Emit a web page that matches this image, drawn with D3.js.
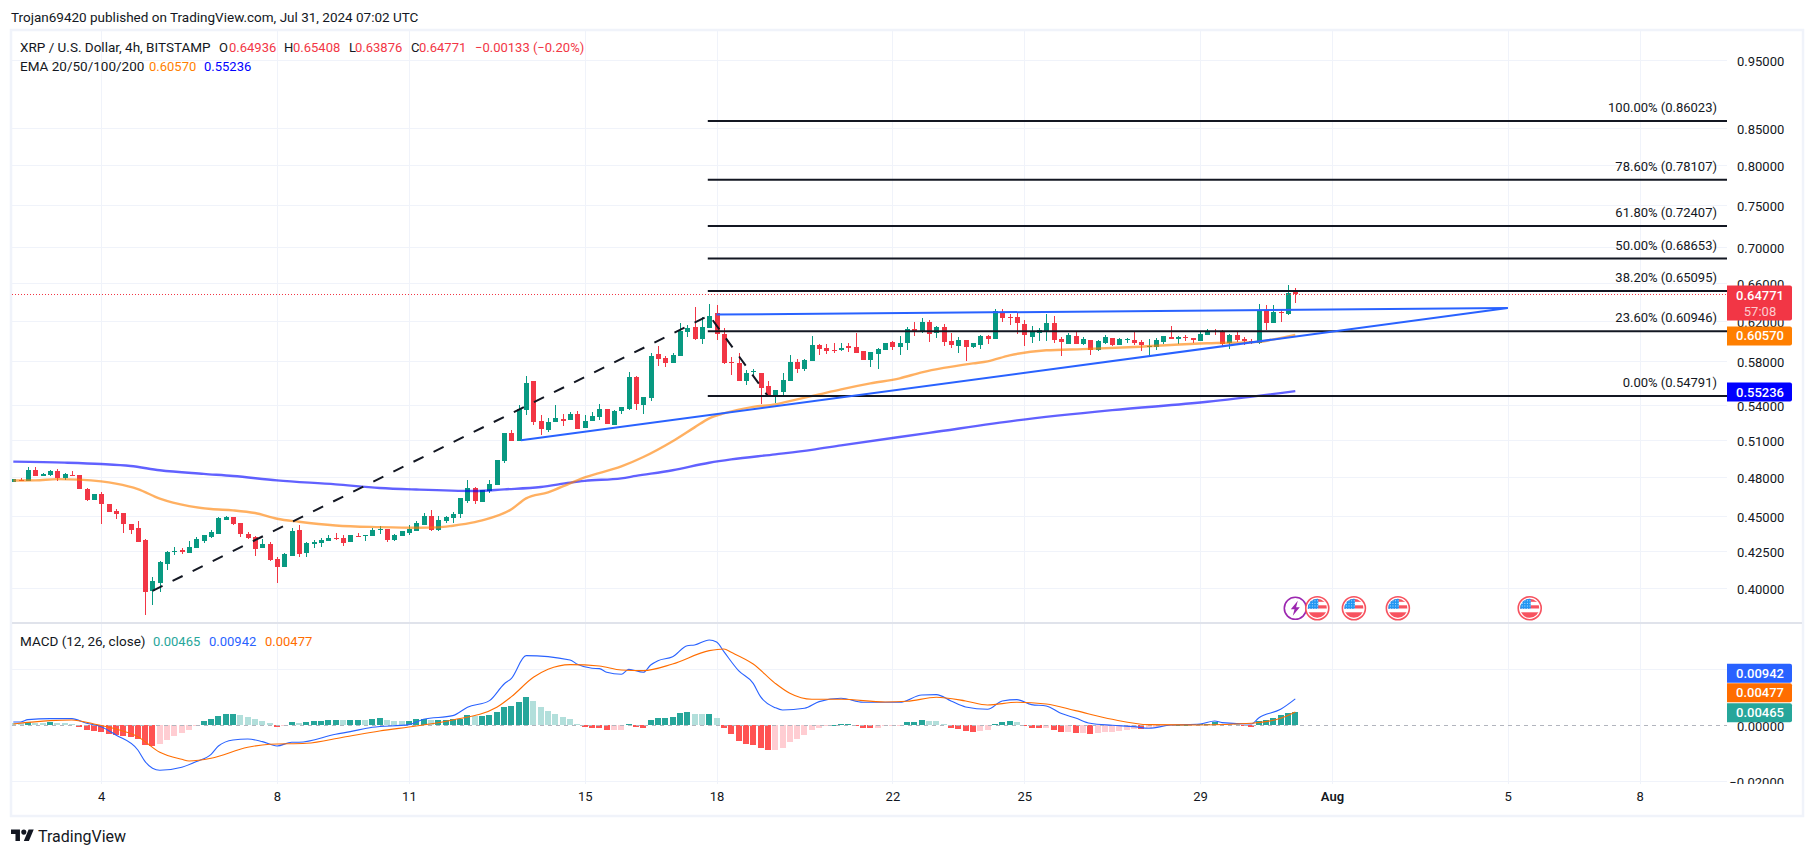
<!DOCTYPE html>
<html><head><meta charset="utf-8">
<style>
html,body{margin:0;padding:0;background:#fff;overflow:hidden}
svg{display:block}
text{font-family:Roboto,"Noto Sans",sans-serif;font-size:13px;fill:#131722}
.axis path,.axis line{display:none}
</style>
<script src="https://cdn.jsdelivr.net/npm/d3@7/dist/d3.min.js"></script>
</head><body><svg id="c" width="1814" height="855"></svg>
<script>
const opens=[.4759,.4777,.4764,.4851,.4804,.4812,.4843,.4788,.4814,.4812,
.4705,.4618,.4664,.4591,.4536,.4521,.4440,.4411,.4325,.3978,
.4036,.4158,.4241,.4255,.4234,.4269,.4318,.4348,.4369,.4471,
.4491,.4447,.4369,.4348,.4269,.4297,.4192,.4138,.4213,.4397,
.4234,.4302,.4304,.4318,.4341,.4341,.4311,.4355,.4355,.4355,
.4399,.4404,.4325,.4355,.4376,.4390,.4433,.4498,.4397,.4462,
.4484,.4513,.4610,.4710,.4605,.4687,.4733,.4923,.5154,.5088,
.5352,.5613,.5257,.5180,.5248,.5274,.5265,.5318,.5197,.5257,
.5292,.5361,.5222,.5344,.5361,.5650,.5396,.5459,.5866,.5828,
.5781,.5847,.6083,.6133,.6013,.6123,.6275,.6063,.5791,.5781,
.5613,.5700,.5687,.5567,.5477,.5513,.5613,.5791,.5724,.5800,
.5954,.5925,.5912,.5912,.5944,.5935,.5896,.5810,.5866,.5906,
.5984,.5935,.5974,.6113,.6083,.6184,.6073,.6133,.5993,.5944,
.6003,.5935,.5954,.6043,.6013,.6286,.6234,.6234,.6163,.6033,
.6073,.6093,.6173,.6013,.5964,.6043,.5964,.6003,.5906,.5974,
.6023,.5954,.6013,.6003,.5984,.5944,.5935,.5984,.6033,.6020,
.6033,.6023,.5993,.6053,.6093,.6083,.5974,.6053,.6013,.5993,
.5974,.6296,.6173,.6289,.6265,.64936];
const highs=[.4780,.4793,.4875,.4875,.4827,.4851,.4859,.4827,.4849,.4812,
.4710,.4669,.4685,.4593,.4551,.4521,.4440,.4462,.4332,.4070,
.4178,.4248,.4276,.4269,.4318,.4348,.4361,.4397,.4491,.4498,
.4491,.4447,.4383,.4355,.4334,.4311,.4206,.4234,.4411,.4433,
.4311,.4325,.4341,.4361,.4376,.4361,.4361,.4376,.4361,.4411,
.4425,.4404,.4369,.4390,.4433,.4462,.4521,.4543,.4498,.4498,
.4528,.4633,.4772,.4718,.4700,.4772,.4931,.5154,.5180,.5396,
.5660,.5613,.5309,.5283,.5396,.5318,.5335,.5344,.5309,.5335,
.5405,.5361,.5352,.5379,.5697,.5660,.5468,.5876,.5944,.5847,
.5876,.6173,.6153,.6337,.6234,.6368,.6358,.6123,.5838,.5876,
.5715,.5724,.5687,.5613,.5531,.5687,.5857,.5819,.5819,.6043,
.5964,.5964,.5974,.5974,.5974,.6073,.5896,.5886,.5925,.5974,
.5993,.6043,.6133,.6184,.6224,.6204,.6143,.6163,.6073,.6033,
.6003,.5974,.6053,.6053,.6316,.6316,.6265,.6275,.6204,.6143,
.6123,.6265,.6244,.6033,.6073,.6083,.6033,.6003,.6003,.6053,
.6023,.6023,.6023,.6083,.6003,.6013,.6023,.6043,.6143,.6043,
.6053,.6023,.6083,.6113,.6113,.6103,.6063,.6093,.6033,.6013,
.6368,.6358,.6358,.6306,.6570,.65408];
const lows=[.4759,.4767,.4764,.4804,.4804,.4809,.4764,.4777,.4804,.4702,
.4610,.4618,.4440,.4528,.4476,.4376,.4369,.4311,.3825,.3888,
.3971,.4117,.4220,.4227,.4234,.4269,.4304,.4341,.4369,.4469,
.4433,.4348,.4334,.4213,.4269,.4178,.4036,.4138,.4213,.4206,
.4206,.4269,.4276,.4318,.4325,.4283,.4311,.4348,.4318,.4355,
.4369,.4311,.4318,.4355,.4361,.4390,.4433,.4390,.4390,.4447,
.4447,.4484,.4595,.4588,.4605,.4672,.4733,.4908,.5088,.5088,
.5309,.5222,.5137,.5163,.5248,.5214,.5265,.5189,.5197,.5257,
.5265,.5231,.5222,.5318,.5352,.5352,.5318,.5432,.5752,.5743,
.5781,.5847,.6033,.6003,.5964,.6123,.6003,.5772,.5669,.5613,
.5576,.5650,.5405,.5477,.5414,.5477,.5613,.5687,.5706,.5800,
.5857,.5866,.5876,.5899,.5886,.5876,.5810,.5743,.5724,.5906,
.5906,.5857,.5906,.6043,.6073,.5984,.6023,.5944,.5925,.5876,
.5800,.5925,.5915,.5964,.6013,.6184,.6153,.6063,.5944,.5974,
.5993,.5993,.5974,.5847,.5964,.5964,.5954,.5857,.5896,.5964,
.5944,.5954,.5974,.5954,.5896,.5838,.5906,.5964,.6013,.5964,
.5993,.5974,.5993,.6053,.6053,.5935,.5915,.5984,.5954,.5964,
.5964,.6103,.6173,.6184,.6255,.63876];
const closes=[.4780,.4772,.4851,.4804,.4819,.4846,.4788,.4819,.4809,.4702,
.4618,.4669,.4588,.4531,.4513,.4440,.4397,.4316,.3971,.4043,
.4171,.4241,.4248,.4241,.4276,.4334,.4362,.4383,.4483,.4491,
.4440,.4369,.4341,.4262,.4297,.4185,.4138,.4227,.4390,.4227,
.4304,.4311,.4325,.4341,.4334,.4304,.4361,.4350,.4361,.4397,
.4404,.4325,.4361,.4390,.4404,.4447,.4498,.4397,.4469,.4491,
.4513,.4633,.4710,.4610,.4695,.4741,.4931,.5154,.5088,.5361,
.5595,.5248,.5189,.5248,.5283,.5257,.5318,.5189,.5257,.5300,
.5361,.5231,.5344,.5379,.5650,.5405,.5468,.5847,.5819,.5781,
.5857,.6093,.6123,.6013,.6133,.6244,.6063,.5781,.5788,.5613,
.5687,.5706,.5549,.5477,.5531,.5622,.5791,.5724,.5810,.5954,
.5915,.5896,.5906,.5931,.5925,.5876,.5810,.5886,.5915,.5974,
.5935,.5974,.6113,.6083,.6184,.6063,.6133,.5984,.5954,.6003,
.5935,.5974,.6043,.6013,.6296,.6224,.6227,.6173,.6053,.6083,
.6103,.6173,.6003,.5984,.6053,.5964,.6013,.5906,.5993,.6033,
.5954,.6013,.6020,.5974,.5954,.5951,.6003,.6043,.6013,.6033,
.6027,.6003,.6063,.6093,.6083,.5964,.6053,.6003,.5993,.5987,
.6306,.6173,.6286,.6279,.6485,.64771];

const ema50Idx=[0,3,6,9,12,14,17,20,24,27,30,33,36,39,44,50,55,58,60,63,64,68,70,73,76,78,83,86,90,93,95,97,101,104,107,110,113,117,121,124,127,131,133,136,141,146,153,163,170,172,175];
const ema50=[.4771,.4772,.4782,.4778,.4764,.4746,.4704,.4631,.4575,.4553,.4543,.4523,.4481,.4459,.4432,.4420,.4415,.4418,.4430,.4456,.4469,.4551,.4633,.4679,.4749,.4795,.4882,.4958,.5088,.5205,.5283,.5326,.5383,.5405,.5450,.5495,.5540,.5594,.5641,.5696,.5738,.5781,.5800,.5857,.5906,.5918,.5938,.5975,.5988,.6013,.6057];
const ema200Idx=[0,7,12,16,20,26,30,36,44,50,55,63,67,72,76,78,83,85,90,95,98,104,109,113,125,137,150,163,175];
const ema200=[.4921,.4913,.4902,.4886,.4852,.4823,.4806,.4772,.4741,.4713,.4701,.4690,.4702,.4720,.4754,.4768,.4788,.4807,.4852,.4912,.4939,.4980,.5017,.5054,.5158,.5265,.5354,.5428,.55236];

const fibRatios=["100.00%","78.60%","61.80%","50.00%","38.20%","23.60%","0.00%"];
const fibPrices=[.86023,.78107,.72407,.68653,.65095,.60946,.54791];
const fibStartIdx=94.8;
const upperTrendIdx=[96,204], upperTrend=[.6262,.6330];
const lowerTrendIdx=[69.3,204], lowerTrend=[.5096,.6330];
const zigzagIdx=[19,95,103], zigzag=[.3981,.6254,.54791];

const priceTicks=[.95,.85,.80,.75,.70,.66,.62,.58,.54,.51,.48,.45,.425,.40];
const macdTicks=[.02,0,-.02];
const dayTickIdx=[12,36,54,78,96,120,138,162,180,204,222];
const dayTickLabels=["4","8","11","15","18","22","25","29","Aug","5","8"];

const macdUnit=1e-5;
const macdHist=[95,71,107,83,71,119,95,83,48,-48,
-179,-190,-226,-321,-357,-381,-405,-500,-714,-738,
-666,-524,-381,-274,-155,-12,143,214,345,405,
417,369,298,214,167,95,-48,-36,119,83,
119,155,157,190,193,188,190,193,190,238,
244,190,161,155,161,214,220,184,190,196,
214,238,357,333,345,369,476,666,690,833,
1000,857,655,500,405,298,238,48,-60,-83,
-84,-167,-161,-155,48,-48,-95,202,262,265,
298,428,488,417,393,417,274,-95,-309,-559,
-666,-702,-797,-881,-875,-809,-595,-488,-345,-167,
-83,-12,24,60,62,-12,-95,-101,-83,-36,
-30,-12,107,131,202,167,161,60,-95,-131,
-202,-226,-202,-167,60,131,167,131,-24,-95,
-101,-83,-167,-238,-232,-274,-268,-309,-274,-244,
-238,-202,-167,-131,-137,-95,-60,-24,-12,12,
24,36,38,60,119,60,54,36,-12,-60,
143,179,262,357,452,465];
const macdLineIdx=[0,1,2,5,8,10,12,14,17,18,19,20,23,25,27,28,30,32,34,36,38,39,44,46,49,54,56,60,62,65,67,68,70,76,77,79,80,81,83,84,86,87,88,90,92,93,95,96,97,99,101,102,104,105,108,110,113,116,121,124,126,128,130,133,135,137,139,141,143,145,147,150,153,155,158,162,164,165,169,170,173,175];
const macdLine=[119,119,202,238,238,71,-48,-345,-881,-1297,-1535,-1607,-1499,-1297,-1035,-738,-524,-488,-583,-738,-607,-607,-321,-226,-71,24,214,345,643,881,1476,1678,2487,2332,2178,2035,2023,1892,1821,1999,1892,2154,2309,2451,2844,2868,3046,2975,2630,1952,1499,1023,631,547,607,845,964,821,821,1083,1095,869,655,571,869,916,738,690,428,262,71,0,-48,-107,12,48,155,95,48,262,571,942];
const signalIdx=[0,5,8,11,14,17,20,23,24,27,32,35,40,45,50,55,60,66,68,71,73,76,80,83,86,90,95,97,98,101,104,106,109,113,119,122,126,130,133,137,141,145,150,155,162,169,173,175];
const signalLine=[48,167,190,48,-131,-405,-964,-1214,-1273,-1178,-785,-678,-643,-428,-202,-24,190,643,1023,1714,1999,2166,2118,1975,1952,2190,2666,2725,2606,2190,1499,1142,928,928,833,857,1000,869,726,821,762,524,214,24,12,71,250,477];

const eventIdx=[175,178,183,189,207];
const eventKinds=["split","us","us","us","us"];

/* ------ geometry ------ */
const L=12,R=1727,TOP=31,DIV=623,PB=784;
const x=d3.scaleLinear().domain([0,175]).range([13.3,1295.3]);
const y=d3.scaleLog().domain([.95,.40]).range([60.4,588]);
const ym=d3.scaleLinear().domain([.02,-.02]).range([669.3,781.3]);
const svg=d3.select("#c");
const GRID="#f0f3fa",UP="#089981",DOWN="#f23645",INK="#131722";

svg.append("rect").attr("width",1814).attr("height",855).attr("fill","#fff");
svg.append("rect").attr("x",11).attr("y",30).attr("width",1792).attr("height",786)
  .attr("fill","#fff").attr("stroke",GRID).attr("stroke-width",2.5);

const defs=svg.append("defs");
defs.append("clipPath").attr("id","mainClip").append("rect").attr("x",L).attr("y",TOP).attr("width",R-L).attr("height",DIV-TOP-1);
defs.append("clipPath").attr("id","macdClip").append("rect").attr("x",L).attr("y",DIV+1).attr("width",R-L).attr("height",PB-DIV-1);
defs.append("clipPath").attr("id","axisClip").append("rect").attr("x",R).attr("y",DIV+1).attr("width",70).attr("height",PB-DIV-1);
defs.append("clipPath").attr("id","flagClip").append("circle").attr("r",9.5);

/* grid */
const grid=svg.append("g").attr("shape-rendering","crispEdges").attr("stroke",GRID).attr("stroke-width",1);
grid.selectAll(".v").data(dayTickIdx).join("line").attr("x1",d=>Math.round(x(d))+.5).attr("x2",d=>Math.round(x(d))+.5).attr("y1",TOP).attr("y2",PB);
grid.selectAll(".h").data(priceTicks).join("line").attr("x1",L).attr("x2",R).attr("y1",d=>Math.round(y(d))+.5).attr("y2",d=>Math.round(y(d))+.5);
grid.selectAll(".m").data(macdTicks.filter(d=>d!==0)).join("line").attr("x1",L).attr("x2",R).attr("y1",d=>Math.round(ym(d))+.5).attr("y2",d=>Math.round(ym(d))+.5);
svg.append("line").attr("x1",L).attr("x2",1802).attr("y1",DIV).attr("y2",DIV).attr("stroke","#e0e3eb").attr("stroke-width",2);

/* candles */
const main=svg.append("g").attr("clip-path","url(#mainClip)");
const candles=d3.range(opens.length);
const cg=main.append("g").attr("shape-rendering","crispEdges");
const col=i=>closes[i]>=opens[i]?UP:DOWN;
cg.selectAll(".w").data(candles).join("line")
  .attr("x1",i=>Math.round(x(i))+.5).attr("x2",i=>Math.round(x(i))+.5)
  .attr("y1",i=>y(highs[i])).attr("y2",i=>y(lows[i])).attr("stroke",col);
cg.selectAll(".b").data(candles).join("rect")
  .attr("x",i=>Math.round(x(i))-2).attr("width",5)
  .attr("y",i=>y(Math.max(opens[i],closes[i])))
  .attr("height",i=>Math.max(1,y(Math.min(opens[i],closes[i]))-y(Math.max(opens[i],closes[i]))))
  .attr("fill",col);

/* EMAs */
const priceLine=d3.line().x(d=>x(d[0])).y(d=>y(d[1])).curve(d3.curveMonotoneX);
main.append("path").attr("d",priceLine(d3.zip(ema200Idx,ema200))).attr("fill","none").attr("stroke","#0000ff").attr("stroke-opacity",.62).attr("stroke-width",2.4);
main.append("path").attr("d",priceLine(d3.zip(ema50Idx,ema50))).attr("fill","none").attr("stroke","#ff7f00").attr("stroke-opacity",.62).attr("stroke-width",2.4);

/* last price dotted */
main.append("line").attr("x1",L).attr("x2",R).attr("y1",Math.round(y(.64771))+.5).attr("y2",Math.round(y(.64771))+.5)
  .attr("stroke",DOWN).attr("stroke-width",1).attr("stroke-dasharray","1 2");

/* fib lines */
main.selectAll(".fib").data(fibPrices).join("line").attr("x1",x(fibStartIdx)).attr("x2",R)
  .attr("y1",d=>y(d)).attr("y2",d=>y(d)).attr("stroke",INK).attr("stroke-width",2);
const straight=d3.line().x(d=>x(d[0])).y(d=>y(d[1]));
main.append("path").attr("d",straight(d3.zip(zigzagIdx,zigzag))).attr("fill","none").attr("stroke",INK).attr("stroke-width",2).attr("stroke-dasharray","11.2 11.2");
[[upperTrendIdx,upperTrend],[lowerTrendIdx,lowerTrend]].forEach(([a,b])=>{
  main.append("path").attr("d",straight(d3.zip(a,b))).attr("fill","none").attr("stroke","#2962ff").attr("stroke-width",2);
});
svg.selectAll(".fl").data(fibPrices).join("text").attr("x",1717).attr("y",d=>y(d)-13.5).attr("dy",".35em")
  .attr("text-anchor","end").text((d,i)=>`${fibRatios[i]} (${d3.format(".5f")(d)})`);

/* events */
const ev=svg.selectAll(".ev").data(eventIdx).join("g").attr("transform",d=>`translate(${x(d)},608.3)`);
ev.each(function(d,i){
  const g=d3.select(this);
  if(eventKinds[i]==="split"){
    g.append("circle").attr("r",11).attr("fill","#fff").attr("stroke","#9c27b0").attr("stroke-width",1.6);
    g.append("path").attr("d","M2.5,-7.5 L-4.5,1 L-0.8,1 L-2.5,7.5 L4.5,-1 L0.8,-1 Z").attr("fill","#9c27b0");
  }else{
    g.append("circle").attr("r",11.5).attr("fill","#fff").attr("stroke","#f7525f").attr("stroke-width",1.6);
    const f=g.append("g").attr("clip-path","url(#flagClip)");
    f.append("rect").attr("x",-10).attr("y",-10).attr("width",20).attr("height",20).attr("fill","#fff");
    [[-10,3.5],[-3,3.2],[4,7]].forEach(r=>f.append("rect").attr("x",-10).attr("y",r[0]).attr("width",20).attr("height",r[1]).attr("fill","#f7525f"));
    f.append("rect").attr("x",-10).attr("y",-10).attr("width",11).attr("height",10.5).attr("fill","#2196f3");
    d3.range(-8,0,2.6).forEach(a=>d3.range(-8,0,2.6).forEach(b=>f.append("rect").attr("x",a).attr("y",b).attr("width",1).attr("height",1).attr("fill","#bbdefb")));
  }
});

/* MACD pane */
const mp=svg.append("g").attr("clip-path","url(#macdClip)");
const hv=i=>macdHist[i]*macdUnit;
const hcol=i=>{
  const rising=i>0?macdHist[i]>macdHist[i-1]:false;
  return macdHist[i]>=0?(rising?"#26a69a":"#b2dfdb"):(rising?"#ffcdd2":"#ff5252");
};
mp.append("g").attr("shape-rendering","crispEdges").selectAll("rect").data(d3.range(macdHist.length)).join("rect")
  .attr("x",i=>Math.round(x(i))-3).attr("width",6)
  .attr("y",i=>Math.min(ym(0),ym(hv(i)))).attr("height",i=>Math.max(1,Math.abs(ym(hv(i))-ym(0))))
  .attr("fill",hcol);
mp.append("line").attr("x1",L).attr("x2",R).attr("y1",Math.round(ym(0))+.5).attr("y2",Math.round(ym(0))+.5)
  .attr("stroke","#b2b5be").attr("stroke-dasharray","4 4");
const ml=d3.line().x(d=>x(d[0])).y(d=>ym(d[1]*macdUnit)).curve(d3.curveMonotoneX);
mp.append("path").attr("d",ml(d3.zip(macdLineIdx,macdLine))).attr("fill","none").attr("stroke","#2962ff").attr("stroke-width",1.1);
mp.append("path").attr("d",ml(d3.zip(signalIdx,signalLine))).attr("fill","none").attr("stroke","#ff6d00").attr("stroke-width",1.1);

/* axes */
const pa=svg.append("g").attr("class","axis").attr("transform","translate(1737,0)")
  .call(d3.axisRight(y).tickValues(priceTicks).tickFormat(d3.format(".5f")).tickSize(0).tickPadding(0));
const ma=svg.append("g").attr("clip-path","url(#axisClip)").append("g").attr("class","axis").attr("transform","translate(1737,0)")
  .call(d3.axisRight(ym).tickValues(macdTicks).tickFormat(d3.format(".5f")).tickSize(0).tickPadding(0));
ma.selectAll("text").filter(d=>d<0).attr("text-anchor","end").attr("x",47);
pa.selectAll("text").attr("dy",".42em");
ma.selectAll("text").attr("dy",".42em");
const xa=svg.append("g").attr("class","axis").attr("transform","translate(0,792)")
  .call(d3.axisBottom(x).tickValues(dayTickIdx).tickFormat((d,i)=>dayTickLabels[i]).tickSize(0).tickPadding(0));
xa.selectAll("text").attr("dy",".72em").style("font-weight",d=>d===180?"600":"400");
svg.selectAll(".axis text").style("font-size","13px").style("font-family","Roboto,'Noto Sans',sans-serif").attr("fill",INK);

/* price boxes */
const box=(cy,h,fill,txt,ty)=>{
  svg.append("path").attr("d",`M1727,${cy-h[0]}H1790a2,2 0 0 1 2,2V${cy+h[1]-2}a2,2 0 0 1 -2,2H1727Z`).attr("fill",fill);
  svg.append("text").attr("x",1760).attr("y",ty).attr("dy",".35em").attr("text-anchor","middle").style("fill","#fff").style("font-weight","500").text(txt);
};
const fmt=d3.format(".5f");
box(y(.64771),[8.6,26.4],DOWN,fmt(.64771),y(.64771)+1.4);
svg.append("text").attr("x",1760).attr("y",311).attr("dy",".35em").attr("text-anchor","middle").style("fill","#fff").style("fill-opacity",.75).text("57:08");
box(y(.6057),[8.5,10.5],"#ff7f00",fmt(.6057),y(.6057)+1);
box(y(.55236),[8.7,10.3],"#0000ff",fmt(.55236),y(.55236)+1);
const mLow=ym(.00465)+.5;
box(mLow,[9.5,9.5],"#26a69a",fmt(.00465),mLow);
box(mLow-20,[9.5,9.5],"#ff6d00",fmt(.00477),mLow-20);
box(mLow-39.5,[9.5,9.5],"#2962ff",fmt(.00942),mLow-39.5);

/* legends */
const t=(xp,yp,s,c)=>svg.append("text").attr("x",xp).attr("y",yp).attr("dy",".35em").style("fill",c||INK).text(s);
const wide=s=>s.style("font-size","13.5px");
wide(t(11,17.5,"Trojan69420 published on TradingView.com, Jul 31, 2024 07:02 UTC"));
wide(t(20,47,"XRP / U.S. Dollar, 4h, BITSTAMP"));
t(219,47,"O");t(229,47,fmt(.64936),DOWN);
t(284,47,"H");t(293,47,fmt(.65408),DOWN);
t(349,47,"L");t(355,47,fmt(.63876),DOWN);
t(411,47,"C");t(419,47,fmt(.64771),DOWN);
t(475,47,"\u22120.00133 (\u22120.20%)",DOWN);
wide(t(20,66,"EMA 20/50/100/200"));
t(149,66,fmt(.6057),"#ff7f00");t(204,66,fmt(.55236),"#0000ff");
wide(t(20,641,"MACD (12, 26, close)"));
t(153,641,fmt(.00465),"#26a69a");t(209,641,fmt(.00942),"#2962ff");t(265,641,fmt(.00477),"#ff6d00");

/* brand */
const lg=svg.append("g").attr("transform","translate(11,827) scale(.64)").attr("fill",INK);
lg.append("path").attr("d","M14 22H7V11H0V4h14v18zM28 22h-8l7.5-18h8L28 22z");
lg.append("circle").attr("cx",20).attr("cy",8).attr("r",4);
t(38,836.5,"TradingView").style("font-size","16px");
</script></body></html>
